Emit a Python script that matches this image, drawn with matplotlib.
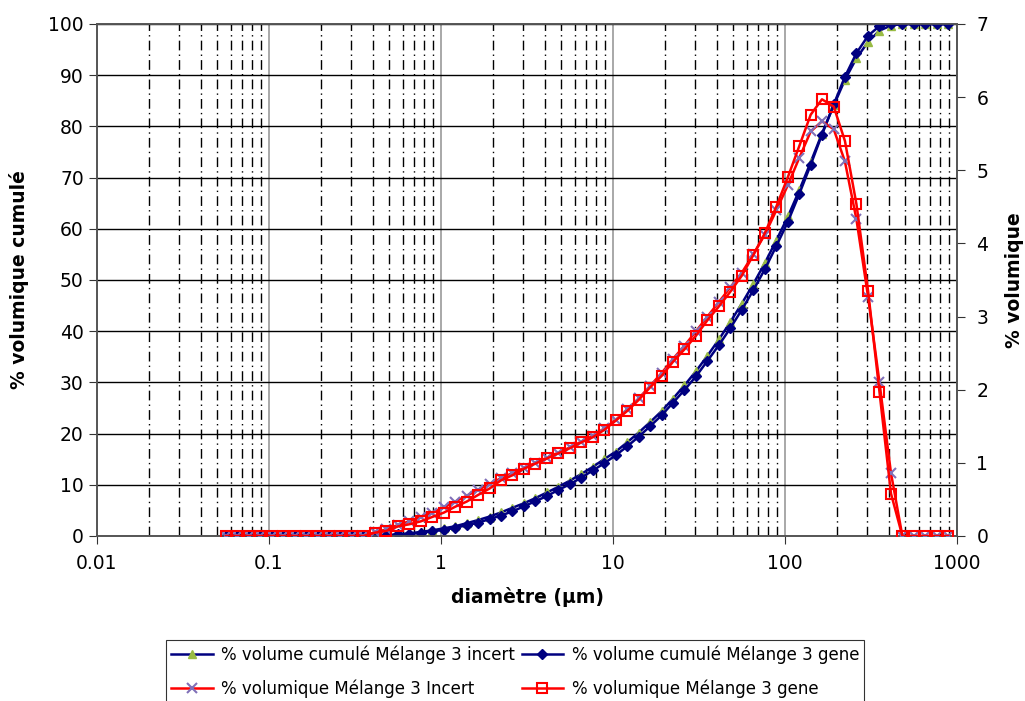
import matplotlib
matplotlib.use("Agg")
import matplotlib.pyplot as plt
from matplotlib.ticker import FixedLocator, FixedFormatter, NullFormatter

plt.rcParams['font.family'] = ['DejaVu Sans']

# size classes (µm)
diametre = [0.0561, 0.0654, 0.0763, 0.0889, 0.104, 0.121, 0.141, 0.164, 0.192, 0.223,
            0.260, 0.304, 0.354, 0.413, 0.481, 0.561, 0.654, 0.763, 0.889, 1.04,
            1.21, 1.41, 1.64, 1.92, 2.23, 2.60, 3.04, 3.54, 4.13, 4.81,
            5.61, 6.54, 7.63, 8.89, 10.4, 12.1, 14.1, 16.4, 19.2, 22.3,
            26.0, 30.4, 35.4, 41.3, 48.1, 56.1, 65.4, 76.3, 88.9, 104,
            121, 141, 164, 192, 223, 260, 304, 354, 413, 481,
            561, 654, 763, 889]

cumul_incert = [0] * 13 + [
    0.05, 0.1, 0.3, 0.5, 0.8, 1.1, 1.5, 1.9, 2.5, 3.1,
    3.8, 4.6, 5.5, 6.4, 7.4, 8.5, 9.6, 10.8, 12.1, 13.5,
    15.0, 16.5, 18.3, 20.2, 22.2, 24.4, 26.8, 29.4, 32.2, 35.2,
    38.4, 41.8, 45.4, 49.2, 53.3, 57.7, 62.4, 67.5, 73.0, 78.6,
    84.1, 89.1, 93.3, 96.5, 98.7, 99.7] + [100] * 5

cumul_gene = [0] * 13 + [
    0.05, 0.1, 0.3, 0.4, 0.6, 0.9, 1.2, 1.6, 2.1, 2.6,
    3.3, 4.0, 4.8, 5.8, 6.8, 7.8, 9.0, 10.1, 11.4, 12.8,
    14.2, 15.8, 17.5, 19.4, 21.4, 23.6, 26.0, 28.5, 31.2, 34.2,
    37.3, 40.6, 44.2, 48.0, 52.1, 56.6, 61.4, 66.8, 72.5, 78.4,
    84.3, 89.7, 94.3, 97.7, 99.6] + [100] * 6

vol_incert = [0] * 13 + [
    0.05, 0.09, 0.15, 0.20, 0.26, 0.32, 0.39, 0.47, 0.55, 0.63,
    0.71, 0.79, 0.86, 0.93, 1.00, 1.07, 1.14, 1.21, 1.29, 1.37,
    1.47, 1.59, 1.73, 1.88, 2.05, 2.23, 2.42, 2.60, 2.80, 3.00,
    3.20, 3.40, 3.60, 3.85, 4.12, 4.45, 4.80, 5.17, 5.53, 5.67,
    5.56, 5.12, 4.33, 3.27, 2.10, 0.86] + [0] * 5

vol_gene = [0] * 13 + [
    0.045, 0.07, 0.13, 0.16, 0.20, 0.26, 0.32, 0.40, 0.47, 0.56,
    0.65, 0.76, 0.83, 0.92, 0.99, 1.06, 1.13, 1.20, 1.28, 1.35,
    1.45, 1.58, 1.71, 1.86, 2.03, 2.19, 2.38, 2.55, 2.74, 2.95,
    3.14, 3.34, 3.56, 3.84, 4.14, 4.50, 4.91, 5.33, 5.76, 5.97,
    5.87, 5.40, 4.54, 3.35, 1.97, 0.58] + [0] * 5

labels = ['% volume cumulé Mélange 3 incert', '% volume cumulé Mélange 3 gene',
          '% volumique Mélange 3 Incert', '% volumique Mélange 3 gene']
decades = [0.01, 0.1, 1, 10, 100, 1000]
decade_labels = ['0.01', '0.1', '1', '10', '100', '1000']

fig = plt.figure(figsize=(10.25, 7.01), dpi=100)
ax = fig.add_axes([0.0946, 0.2354, 0.8391, 0.7304])
ax2 = ax.twinx()

navy = '#000080'
red = '#ff0000'

l1, = ax.plot(diametre, cumul_incert, color=navy, lw=1.8, marker='^', ms=6,
              mfc='#99bb44', mec='#99bb44', zorder=3)
l2, = ax.plot(diametre, cumul_gene, color=navy, lw=1.8, marker='D', ms=5.5,
              mfc=navy, mec=navy, zorder=4)
l3, = ax2.plot(diametre, vol_incert, color=red, lw=1.8, marker='x', ms=7,
               mew=1.5, mec='#8070b8', zorder=3)
l4, = ax2.plot(diametre, vol_gene, color=red, lw=1.8, marker='s', ms=7.5,
               mfc='none', mec=red, mew=1.5, zorder=4)

ax.set_xscale('log')
ax.set_xlim(0.01, 1000)
ax.set_ylim(0, 100)
ax2.set_ylim(0, 7)

ax.xaxis.set_major_locator(FixedLocator(decades))
ax.xaxis.set_major_formatter(FixedFormatter(decade_labels))
minor = [m * d for d in decades[:-1] for m in range(2, 10)]
ax.xaxis.set_minor_locator(FixedLocator(minor))
ax.xaxis.set_minor_formatter(NullFormatter())
ax.set_yticks(range(0, 101, 10))
ax2.set_yticks(range(0, 8))

# grid: solid rows every 10 %, grey decades, dash-dot minor columns
ax.yaxis.grid(True, color='black', lw=1)
ax.xaxis.grid(True, which='major', color='#999999', lw=1.2)
ax.xaxis.grid(True, which='minor', color='black', lw=1, linestyle=(0, (7, 3, 1, 3)))
ax.set_axisbelow(True)

ax.tick_params(axis='both', which='major', labelsize=13.5, length=6, color='#333333')
ax.tick_params(axis='x', which='minor', length=0)
ax.tick_params(axis='x', pad=7)
ax2.tick_params(axis='y', labelsize=13.5, length=6, color='#333333', pad=8)

for a in (ax, ax2):
    for s in a.spines.values():
        s.set_color('#555555')
        s.set_linewidth(1.2)

ax.set_xlabel('diamètre (µm)', fontsize=13.5, fontweight='bold', labelpad=10)
ax.set_ylabel('% volumique cumulé', fontsize=13.5, fontweight='bold', labelpad=14)
ax2.set_ylabel('% volumique', fontsize=13.5, fontweight='bold', labelpad=12)

leg = fig.legend([l1, l3, l2, l4], [labels[0], labels[2], labels[1], labels[3]],
                 ncol=2, loc='upper center',
                 bbox_to_anchor=(0.5025, 1 - 640 / 701), borderaxespad=0,
                 frameon=True, fancybox=False, fontsize=12, handlelength=2.5,
                 handletextpad=0.5, columnspacing=0.4, labelspacing=0.95,
                 borderpad=0.3)
leg.get_frame().set_edgecolor('black')
leg.get_frame().set_linewidth(0.8)

fig.savefig('out.png', dpi=100)
